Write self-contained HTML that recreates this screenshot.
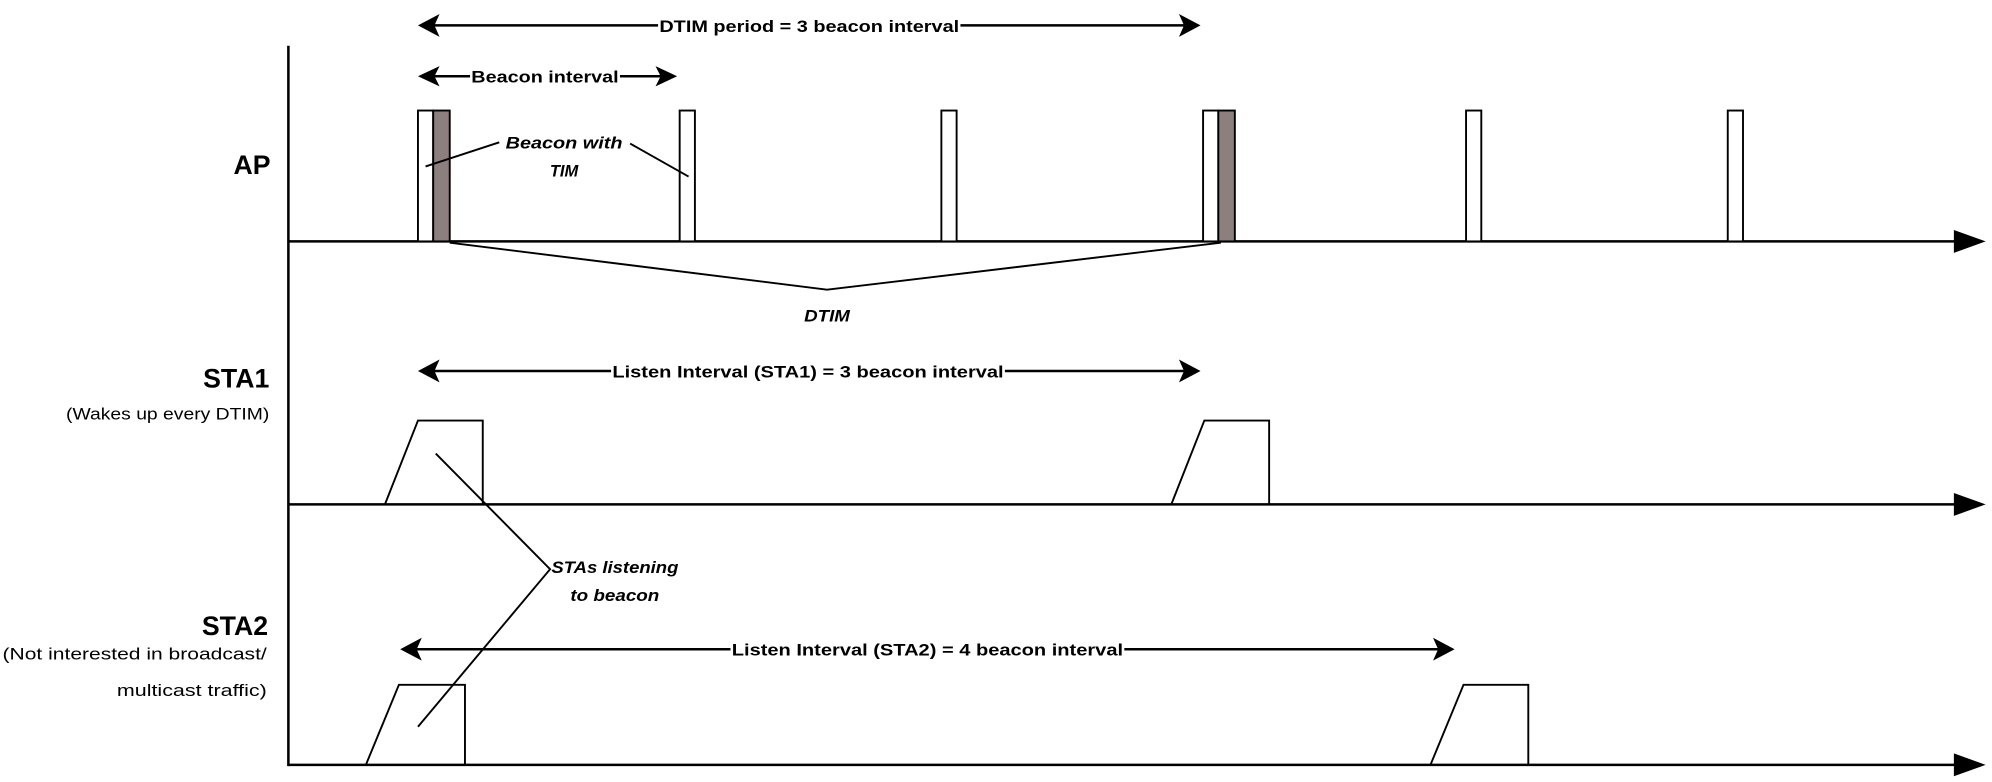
<!DOCTYPE html>
<html><head><meta charset="utf-8"><style>
html,body{margin:0;padding:0;background:#fff;}
svg{display:block;}
text{font-family:"Liberation Sans",sans-serif;fill:#000;}
</style></head><body>
<svg width="1992" height="782" viewBox="0 0 1568 615.5" preserveAspectRatio="none" xmlns="http://www.w3.org/2000/svg">
<g stroke="#000" stroke-width="2" fill="none">
<!-- axes -->
<line x1="227" y1="36" x2="227" y2="603"/>
<line x1="227" y1="190" x2="1545" y2="190"/>
<line x1="227" y1="397" x2="1545" y2="397"/>
<line x1="227" y1="602" x2="1545" y2="602"/>
</g>
<g fill="#000">
<polygon points="1538,181 1563,190 1538,199"/>
<polygon points="1538,388 1563,397 1538,406"/>
<polygon points="1538,593 1563,602 1538,611"/>
</g>
<!-- AP beacons -->
<g stroke="#000" stroke-width="1.5" fill="#fff">
<rect x="329" y="87" width="12" height="103"/>
<rect x="341" y="87" width="13" height="103" fill="#8e7f7f"/>
<rect x="535" y="87" width="12" height="103"/>
<rect x="741" y="87" width="12" height="103"/>
<rect x="947" y="87" width="12" height="103"/>
<rect x="959" y="87" width="13" height="103" fill="#8e7f7f"/>
<rect x="1154" y="87" width="12" height="103"/>
<rect x="1360" y="87" width="12" height="103"/>
</g>
<g stroke="#000" stroke-width="1.5" fill="none">
<line x1="335" y1="131" x2="393" y2="112"/>
<line x1="496" y1="113" x2="542" y2="139"/>
<polyline points="354,191 651,228 961,191"/>
<!-- STA trapezoids -->
<polyline points="303,397 329,331 380,331 380,397"/>
<polyline points="922,397 948,331 999,331 999,397"/>
<polyline points="288,602 314,539 366,539 366,602"/>
<polyline points="1126,602 1152,539 1203,539 1203,602"/>
<polyline points="343,357 433,448 329,572"/>
</g>
<!-- double arrows -->
<g stroke="#000" stroke-width="2">
<line x1="335" y1="20" x2="938" y2="20"/>
<line x1="335" y1="60" x2="527" y2="60"/>
<line x1="335" y1="292" x2="938" y2="292"/>
<line x1="321" y1="511" x2="1138" y2="511"/>
</g>
<g fill="#000">
<polygon points="329,20 346,11 342,20 346,29"/>
<polygon points="945,20 928,11 932,20 928,29"/>
<polygon points="329,60 346,52 342,60 346,68"/>
<polygon points="533,60 516,52 520,60 516,68"/>
<polygon points="329,292 346,283 342,292 346,301"/>
<polygon points="945,292 928,283 932,292 928,301"/>
<polygon points="315,511 332,502 328,511 332,520"/>
<polygon points="1145,511 1128,502 1132,511 1128,520"/>
</g>
<!-- text backgrounds -->
<g fill="#fff">
<rect x="518" y="12" width="238" height="16"/>
<rect x="370" y="52" width="118" height="16"/>
<rect x="481" y="284" width="310" height="16"/>
<rect x="575" y="503" width="310" height="16"/>
</g>
<g font-weight="bold" font-size="13" text-anchor="middle">
<text x="637" y="25" textLength="236" lengthAdjust="spacingAndGlyphs">DTIM period = 3 beacon interval</text>
<text x="429" y="65" textLength="116" lengthAdjust="spacingAndGlyphs">Beacon interval</text>
<text x="636" y="297" textLength="308" lengthAdjust="spacingAndGlyphs">Listen Interval (STA1) = 3 beacon interval</text>
<text x="730" y="516" textLength="308" lengthAdjust="spacingAndGlyphs">Listen Interval (STA2) = 4 beacon interval</text>
</g>
<g font-weight="bold" font-style="italic" font-size="13" text-anchor="middle">
<text x="444" y="117" textLength="92" lengthAdjust="spacingAndGlyphs">Beacon with</text>
<text x="444" y="139">TIM</text>
<text x="651" y="253" textLength="36" lengthAdjust="spacingAndGlyphs">DTIM</text>
<text x="484" y="451" textLength="100" lengthAdjust="spacingAndGlyphs">STAs listening</text>
<text x="484" y="473" textLength="70" lengthAdjust="spacingAndGlyphs">to beacon</text>
</g>
<g font-weight="bold" font-size="21" text-anchor="end">
<text x="213" y="137">AP</text>
<text x="212" y="305">STA1</text>
<text x="211" y="500">STA2</text>
</g>
<g font-size="13" text-anchor="end">
<text x="212" y="330" textLength="160" lengthAdjust="spacingAndGlyphs">(Wakes up every DTIM)</text>
<text x="210" y="519" textLength="208" lengthAdjust="spacingAndGlyphs">(Not interested in broadcast/</text>
<text x="210" y="548" textLength="118" lengthAdjust="spacingAndGlyphs">multicast traffic)</text>
</g>
</svg>
</body></html>
